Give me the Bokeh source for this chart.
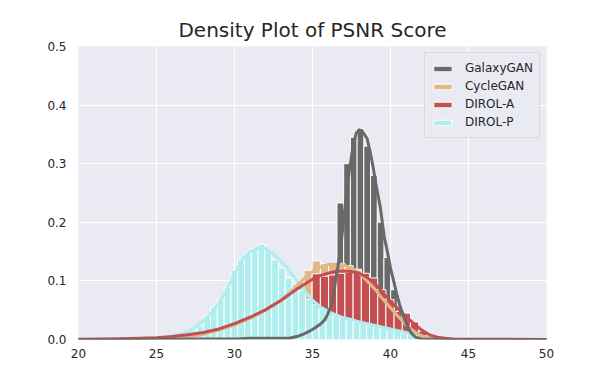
import numpy as np
from bokeh.plotting import figure
from bokeh.models import Range1d, FixedTicker, PrintfTickFormatter, Legend, LegendItem
from bokeh.embed import file_html
from bokeh.resources import INLINE

# ---------------- data ----------------
series_names = ["GalaxyGAN", "CycleGAN", "DIROL-A", "DIROL-P"]
series_colors = ["#696969", "#DEB887", "#C44E52", "#AFEEEE"]

# histograms: first bin left edge, bin width, bar heights (density)
galaxy_bin_start = 35.28
galaxy_bin_width = 0.43
galaxy_hist = [0.035, 0.07, 0.13, 0.233, 0.30, 0.345, 0.36, 0.33, 0.28, 0.20,
               0.14, 0.085, 0.05, 0.02, 0.006]

cycle_bin_start = 33.93
cycle_bin_width = 0.525
cycle_hist = [0.10, 0.118, 0.134, 0.129, 0.13, 0.13, 0.126, 0.12, 0.11, 0.10,
              0.08, 0.06, 0.04, 0.028, 0.015, 0.006, 0.002]

dirola_bin_start = 34.98
dirola_bin_width = 0.525
dirola_hist = [0.112, 0.108, 0.11, 0.113, 0.115, 0.117, 0.113, 0.105, 0.085, 0.068,
               0.048, 0.045, 0.03, 0.014, 0.004, 0.0, 0.0, 0.0, 0.003, 0.003]

dirolp_bin_start = 25.42
dirolp_bin_width = 0.435
dirolp_hist = [0.004, 0.006, 0.009, 0.012, 0.016, 0.023, 0.042, 0.055, 0.069, 0.089,
               0.118, 0.137, 0.149, 0.155, 0.163, 0.152, 0.136, 0.122, 0.105, 0.095,
               0.084, 0.068, 0.06, 0.052, 0.046, 0.041, 0.037, 0.033, 0.030, 0.027,
               0.025, 0.023, 0.020, 0.017, 0.014, 0.011, 0.009, 0.006, 0.004, 0.002,
               0.001]

# KDE curves
galaxy_kde_x = [20, 26, 28, 30, 31, 32, 33, 33.5, 34, 34.5, 35, 35.5, 35.8, 36.0, 36.25,
                36.45, 36.6, 36.8, 37.0, 37.2, 37.4, 37.6, 37.8, 38.0, 38.2, 38.5, 38.7,
                38.9, 39.1, 39.35, 39.6, 39.8, 40.0, 40.2, 40.4, 40.6, 40.8, 41.0, 41.3,
                41.6, 42, 43, 50]
galaxy_kde_y = [0.0, 0.0005, 0.001, 0.001, 0.002, 0.002, 0.002, 0.002, 0.005, 0.01, 0.017,
                0.026, 0.034, 0.045, 0.062, 0.095, 0.12, 0.155, 0.205, 0.255, 0.295, 0.33,
                0.352, 0.358, 0.355, 0.343, 0.32, 0.292, 0.26, 0.225, 0.175, 0.15, 0.122,
                0.10, 0.078, 0.058, 0.042, 0.028, 0.012, 0.004, 0.001, 0.0, 0.0]

cycle_kde_x = [20, 24, 26, 27, 28, 29, 30, 31, 32, 33, 33.5, 34, 34.5, 35, 35.5, 36, 36.5,
               37, 37.5, 38, 38.5, 39, 39.5, 40, 40.5, 41, 41.5, 42, 42.5, 43, 44, 50]
cycle_kde_y = [0.0, 0.0003, 0.001, 0.004, 0.009, 0.016, 0.025, 0.036, 0.05, 0.068, 0.079,
               0.092, 0.105, 0.116, 0.124, 0.128, 0.129, 0.127, 0.122, 0.113, 0.10, 0.086,
               0.069, 0.054, 0.039, 0.025, 0.014, 0.006, 0.003, 0.001, 0.0, 0.0]

dirola_kde_x = [20, 22, 24, 25, 26, 27, 28, 29, 30, 31, 32, 33, 34, 35, 35.5, 36, 36.5, 37,
                37.5, 38, 38.5, 39, 39.5, 40, 40.5, 41, 41.5, 42, 42.5, 43, 43.5, 44, 46, 50]
dirola_kde_y = [0.0005, 0.001, 0.002, 0.003, 0.005, 0.008, 0.012, 0.018, 0.027, 0.038,
                0.051, 0.067, 0.086, 0.103, 0.109, 0.113, 0.116, 0.117, 0.116, 0.113,
                0.106, 0.095, 0.08, 0.065, 0.052, 0.039, 0.027, 0.016, 0.008, 0.004,
                0.002, 0.001, 0.0005, 0.0]

dirolp_kde_x = [20, 22, 23, 24, 25, 25.5, 26, 26.5, 27, 27.5, 28, 28.5, 29, 29.5, 30, 30.5,
                31, 31.5, 32, 32.5, 33, 33.5, 34, 34.5, 35, 35.5, 36, 36.5, 37, 37.5, 38,
                38.5, 39, 39.5, 40, 40.5, 41, 41.5, 42, 42.5, 43, 44, 45, 47, 50]
dirolp_kde_y = [0.0, 0.0005, 0.001, 0.002, 0.003, 0.004, 0.006, 0.009, 0.013, 0.021, 0.032,
                0.045, 0.061, 0.085, 0.112, 0.136, 0.15, 0.156, 0.155, 0.146, 0.133, 0.118,
                0.10, 0.082, 0.067, 0.056, 0.048, 0.042, 0.037, 0.034, 0.03, 0.027, 0.024,
                0.021, 0.018, 0.015, 0.012, 0.009, 0.006, 0.004, 0.003, 0.001, 0.0005, 0.0,
                0.0]

x_ticks = [20, 25, 30, 35, 40, 45, 50]
y_ticks = [0.0, 0.1, 0.2, 0.3, 0.4, 0.5]

# ---------------- figure ----------------
FONT = "DejaVu Sans"
TXT = "#262626"

p = figure(frame_width=468, frame_height=293, output_backend="svg", toolbar_location=None,
           x_range=Range1d(20, 50), y_range=Range1d(0, 0.5),
           min_border_left=78, min_border_right=48, min_border_bottom=27, min_border_top=46)
p.background_fill_color = "#EAEAF2"
p.border_fill_color = "white"
p.outline_line_color = None

p.title.text = "Density Plot of PSNR Score"
p.title.text_font = FONT
p.title.text_font_size = "20px"
p.title.text_font_style = "normal"
p.title.text_color = TXT
p.title.align = "center"
p.title.standoff = 9

for ax in (p.xaxis[0], p.yaxis[0]):
    ax.axis_line_color = None
    ax.major_tick_line_color = None
    ax.minor_tick_line_color = None
    ax.major_tick_out = 0
    ax.major_tick_in = 0
    ax.major_label_text_font = FONT
    ax.major_label_text_font_size = "12px"
    ax.major_label_text_color = TXT
p.xaxis.ticker = FixedTicker(ticks=x_ticks)
p.yaxis.ticker = FixedTicker(ticks=y_ticks)
p.xaxis.formatter = PrintfTickFormatter(format="%d")
p.yaxis.formatter = PrintfTickFormatter(format="%.1f")
p.xaxis.major_label_standoff = 9
p.yaxis.major_label_standoff = 12

p.xgrid.grid_line_color = "white"
p.ygrid.grid_line_color = "white"
p.xgrid.grid_line_width = 1.2
p.ygrid.grid_line_width = 1.2

hists = [(galaxy_bin_start, galaxy_bin_width, galaxy_hist),
         (cycle_bin_start, cycle_bin_width, cycle_hist),
         (dirola_bin_start, dirola_bin_width, dirola_hist),
         (dirolp_bin_start, dirolp_bin_width, dirolp_hist)]
kdes = [(galaxy_kde_x, galaxy_kde_y), (cycle_kde_x, cycle_kde_y),
        (dirola_kde_x, dirola_kde_y), (dirolp_kde_x, dirolp_kde_y)]

quad_renderers = []
for (start, width, heights), color in zip(hists, series_colors):
    h = np.array(heights)
    left = start + width * np.arange(len(h))
    r = p.quad(left=left, right=left + width, bottom=0, top=h,
               fill_color=color, line_color="white", line_width=1)
    quad_renderers.append(r)

# lines: DIROL-P, CycleGAN, DIROL-A, GalaxyGAN on top
for i in [3, 1, 2, 0]:
    kx, ky = kdes[i]
    p.line(kx, ky, line_color=series_colors[i], line_width=3, line_join="round", line_cap="round")

legend = Legend(items=[LegendItem(label=n, renderers=[r]) for n, r in zip(series_names, quad_renderers)],
                location="top_right")
legend.label_text_font = FONT
legend.label_text_font_size = "12px"
legend.label_text_color = TXT
legend.glyph_width = 23
legend.glyph_height = 7
legend.label_height = 18
legend.spacing = 0
legend.padding = 6
legend.margin = 6
legend.label_standoff = 11
legend.background_fill_color = "#EAEAF2"
legend.background_fill_alpha = 0.8
legend.border_line_color = "#CCCCCC"
legend.border_line_width = 1
p.add_layout(legend)

open("out.html", "w").write(file_html(p, INLINE))
